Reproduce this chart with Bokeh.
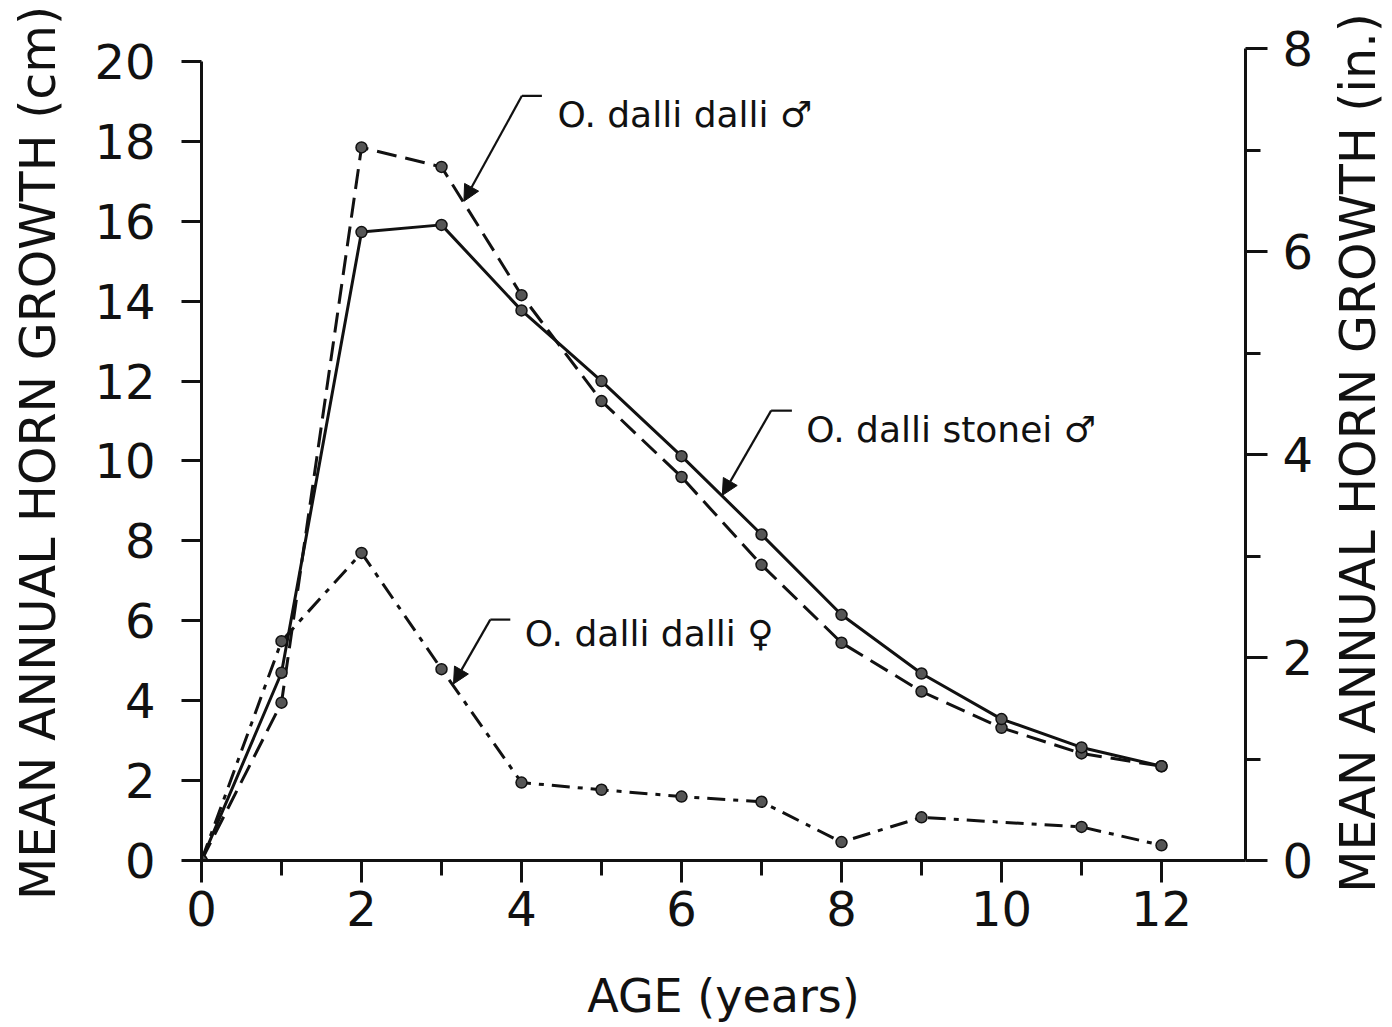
from bokeh.plotting import figure
from bokeh.layouts import row
from bokeh.models import Range1d, LinearAxis, FixedTicker, Label, Arrow, NormalHead
from bokeh.embed import file_html
from bokeh.resources import INLINE

# ---------------- data ----------------
ages = [0, 1, 2, 3, 4, 5, 6, 7, 8, 9, 10, 11, 12]
dalli_male = [0.0, 3.95, 17.85, 17.36, 14.15, 11.5, 9.6, 7.4, 5.45, 4.23, 3.32, 2.68, 2.36]
stonei_male = [0.0, 4.7, 15.73, 15.91, 13.77, 12.0, 10.12, 8.16, 6.15, 4.68, 3.54, 2.83, 2.36]
female_ages = [0, 1, 2, 3, 4, 5, 6, 7, 8, 9, 11, 12]
dalli_female = [0.0, 5.49, 7.7, 4.79, 1.95, 1.77, 1.6, 1.47, 0.46, 1.08, 0.84, 0.38]

x_major_ticks = [0, 2, 4, 6, 8, 10, 12]
x_minor_ticks = [1, 3, 5, 7, 9, 11]
cm_ticks = [0, 2, 4, 6, 8, 10, 12, 14, 16, 18, 20]
in_ticks = [0, 2, 4, 6, 8]
in_minor_ticks = [1, 3, 5, 7]

series_names = ["O. dalli dalli \u2642", "O. dalli stonei \u2642", "O. dalli dalli \u2640"]
x_title = "AGE (years)"
y_title_cm = "MEAN ANNUAL HORN GROWTH (cm)"
y_title_in = "MEAN ANNUAL HORN GROWTH (in.)"

FONT = "DejaVu Sans"
INK = "#111111"
CM_PER_IN = 2.54

TOTAL_W, TOTAL_H = 1390, 1025
TITLE_W = 70
BORDER_TOP, BORDER_BOTTOM = 45, 162
Y_END = 20.4

y_range = Range1d(0, Y_END)

p = figure(width=TOTAL_W - TITLE_W, height=TOTAL_H, output_backend="svg", toolbar_location=None,
           x_range=Range1d(0, 13.05), y_range=y_range,
           x_axis_type=None, y_axis_type=None,
           min_border_left=201, min_border_right=75,
           min_border_top=BORDER_TOP, min_border_bottom=BORDER_BOTTOM)
p.outline_line_color = None
p.background_fill_color = "white"
p.border_fill_color = "white"


def style_axis(ax, tick_out, minor_out, standoff):
    ax.axis_line_width = 3
    ax.axis_line_color = INK
    ax.major_tick_line_width = 3
    ax.major_tick_line_color = INK
    ax.major_tick_out = tick_out
    ax.major_tick_in = 0
    ax.minor_tick_line_width = 3
    ax.minor_tick_line_color = INK if minor_out else None
    ax.minor_tick_out = minor_out
    ax.minor_tick_in = 0
    ax.major_label_text_font = FONT
    ax.major_label_text_font_size = "48px"
    ax.major_label_text_color = INK
    ax.major_label_standoff = standoff


def style_title(ax, title, size, standoff):
    ax.axis_label = title
    ax.axis_label_text_font = FONT
    ax.axis_label_text_font_size = size
    ax.axis_label_text_font_style = "normal"
    ax.axis_label_text_color = INK
    ax.axis_label_standoff = standoff


xaxis = LinearAxis(ticker=FixedTicker(ticks=x_major_ticks, minor_ticks=x_minor_ticks))
style_axis(xaxis, 22, 15, 8)
style_title(xaxis, x_title, "46px", 40)
p.add_layout(xaxis, "below")

yaxis = LinearAxis(ticker=FixedTicker(ticks=cm_ticks, minor_ticks=[]), bounds=(0, 20))
style_axis(yaxis, 20, 0, 26)
style_title(yaxis, y_title_cm, "49px", 24)
p.add_layout(yaxis, "left")

p.extra_y_ranges = {"inch": Range1d(0, Y_END / CM_PER_IN)}
raxis = LinearAxis(y_range_name="inch",
                   ticker=FixedTicker(ticks=in_ticks, minor_ticks=in_minor_ticks),
                   bounds=(0, 8))
style_axis(raxis, 22, 15, 15)
p.add_layout(raxis, "right")

# ---------------- series ----------------
p.line(ages, dalli_male, line_color=INK, line_width=3, line_dash="20 9")
p.line(ages, stonei_male, line_color=INK, line_width=3)
p.line(female_ages, dalli_female, line_color=INK, line_width=3, line_dash="18 8 5 8")
for xs, ys in [(ages, dalli_male), (ages, stonei_male), (female_ages, dalli_female)]:
    p.scatter(xs, ys, size=11, fill_color="#555555", line_color=INK, line_width=1.5)

# ---------------- callouts ----------------
callout_text_pos = [(4.45, 18.68), (7.56, 10.8), (4.04, 5.67)]
callout_corner = [(4.005, 19.14), (7.12, 11.26), (3.61, 6.03)]
callout_elbow_end = [4.255, 7.38, 3.86]
callout_tip = [(3.28, 16.5), (6.51, 9.14), (3.15, 4.42)]

for name, (tx, ty), (cx, cy), ex, (px, py) in zip(series_names, callout_text_pos,
                                                  callout_corner, callout_elbow_end, callout_tip):
    p.add_layout(Label(x=tx, y=ty, text=name, text_align="left", text_baseline="alphabetic",
                       text_font=FONT, text_font_size="36px", text_color=INK))
    p.segment(x0=[cx], y0=[cy], x1=[ex], y1=[cy], line_color=INK, line_width=2.2)
    p.add_layout(Arrow(x_start=cx, y_start=cy, x_end=px, y_end=py,
                       line_color=INK, line_width=2.2,
                       end=NormalHead(size=16, fill_color=INK, line_color=INK, line_width=1)))

# ---------------- right-hand title (reads bottom to top) ----------------
# a narrow companion figure: its own (left-side) axis carries the inch title, so the
# text reads bottom-to-top exactly like the reference
t = figure(width=TITLE_W, height=TOTAL_H, output_backend="svg", toolbar_location=None,
           x_range=Range1d(0, 1), y_range=y_range,
           x_axis_type=None, y_axis_type=None,
           min_border_left=66, min_border_right=0,
           min_border_top=BORDER_TOP, min_border_bottom=BORDER_BOTTOM)
t.outline_line_color = None
t.background_fill_color = "white"
t.border_fill_color = "white"
title_axis = LinearAxis(ticker=FixedTicker(ticks=[], minor_ticks=[]))
title_axis.axis_line_color = None
title_axis.major_tick_line_color = None
title_axis.minor_tick_line_color = None
title_axis.major_tick_out = 0
title_axis.minor_tick_out = 0
title_axis.major_label_standoff = 0
style_title(title_axis, y_title_in, "49px", 0)
t.add_layout(title_axis, "left")

layout = row(p, t, spacing=0)
open("out.html", "w").write(file_html(layout, INLINE))
